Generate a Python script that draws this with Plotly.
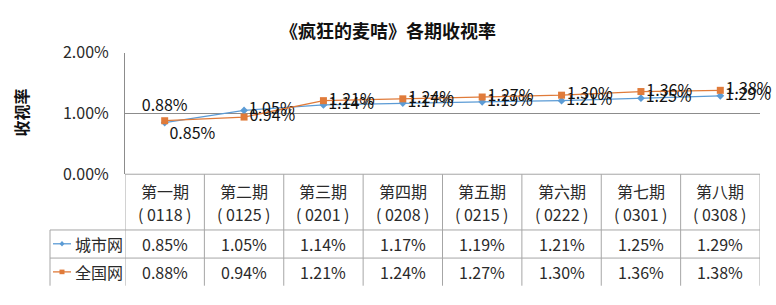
import plotly.graph_objects as go

W, H = 776, 305

categories = ["第一期", "第二期", "第三期", "第四期", "第五期", "第六期", "第七期", "第八期"]
dates = ["0118", "0125", "0201", "0208", "0215", "0222", "0301", "0308"]
city = [0.0085, 0.0105, 0.0114, 0.0117, 0.0119, 0.0121, 0.0125, 0.0129]
national = [0.0088, 0.0094, 0.0121, 0.0124, 0.0127, 0.0130, 0.0136, 0.0138]
series_names = ["城市网", "全国网"]
colors = ["#5B9BD5", "#E07B3A"]

FONT = "Noto Sans CJK SC, Microsoft YaHei, sans-serif"
NB = "\u00a0"


def px(x):
    return x / W


def py(y):
    return 1 - y / H


fig = go.Figure()
xs = list(range(len(categories)))

fig.add_trace(go.Scatter(
    x=xs, y=city, mode="lines+markers+text", name=series_names[0],
    line=dict(color=colors[0], width=1.3),
    marker=dict(symbol="diamond", size=6, color=colors[0]),
    text=[f"{v*100:.2f}%" for v in city],
    textposition=["bottom right"] + ["middle right"] * 7,
    textfont=dict(family=FONT, size=16, color="#111"),
    cliponaxis=False, showlegend=False,
))
fig.add_trace(go.Scatter(
    x=xs, y=national, mode="lines+markers+text", name=series_names[1],
    line=dict(color=colors[1], width=1.3),
    marker=dict(symbol="square", size=7, color=colors[1]),
    text=[f"{v*100:.2f}%" for v in national],
    textposition=["top center"] + ["middle right"] * 7,
    textfont=dict(family=FONT, size=16, color="#111"),
    cliponaxis=False, showlegend=False,
))

GRID = "#8C8C8C"
TBL = "#A6A6A6"
TXT = "#2a2a2a"
shapes = []
shapes.append(dict(type="line", xref="paper", yref="paper", x0=px(125), x1=px(760), y0=py(175), y1=py(175),
                   line=dict(color=TBL, width=1)))
for yy in (235.5, 266):
    shapes.append(dict(type="line", xref="paper", yref="paper", x0=px(50), x1=px(760), y0=py(yy), y1=py(yy),
                       line=dict(color=TBL, width=1)))
for i in range(len(categories) + 1):
    shapes.append(dict(type="line", xref="x", yref="paper", x0=i - 0.5, x1=i - 0.5, y0=py(175), y1=py(296),
                       line=dict(color=TBL, width=1)))
shapes.append(dict(type="line", xref="paper", yref="paper", x0=px(50), x1=px(50), y0=py(235.5), y1=py(296),
                   line=dict(color=TBL, width=1)))

annotations = []
annotations.append(dict(text="<b>《疯狂的麦咭》各期收视率</b>", xref="paper", yref="paper", x=0.5, y=py(18),
                        xanchor="center", showarrow=False, font=dict(family=FONT, size=18, color="#111"),
                        yanchor="middle"))
annotations.append(dict(text="<b>收视率</b>", xref="paper", yref="paper", x=px(21), y=py(108), textangle=-90,
                        xanchor="center", yanchor="middle",
                        showarrow=False, font=dict(family=FONT, size=16, color="#111")))
for i, (c, d) in enumerate(zip(categories, dates)):
    annotations.append(dict(text=c, xref="x", yref="paper", x=i, y=py(193), showarrow=False,
                            font=dict(family=FONT, size=16, color=TXT), yanchor="middle"))
    annotations.append(dict(text=f"({NB}{d}{NB})", xref="x", yref="paper", x=i, y=py(218), showarrow=False,
                            font=dict(family=FONT, size=16, color=TXT), yanchor="middle"))
for row_y, vals in ((250.5, city), (281, national)):
    for i, v in enumerate(vals):
        annotations.append(dict(text=f"{v*100:.2f}%", xref="x", yref="paper", x=i, y=py(row_y), showarrow=False,
                                font=dict(family=FONT, size=16, color=TXT), yanchor="middle"))
for row_y, name, col, sym in ((250.5, series_names[0], colors[0], "diamond"), (281, series_names[1], colors[1], "square")):
    shapes.append(dict(type="line", xref="paper", yref="paper", x0=px(53), x1=px(71), y0=py(row_y), y1=py(row_y),
                       line=dict(color=col, width=1.3)))
    if sym == "square":
        shapes.append(dict(type="rect", xref="paper", yref="paper", x0=px(59.5), x1=px(64.5),
                           y0=py(row_y + 2.5), y1=py(row_y - 2.5), fillcolor=col, line=dict(width=0)))
    else:
        cx, cy = 62, row_y
        path = f"M {px(cx)} {py(cy-3)} L {px(cx+2.5)} {py(cy)} L {px(cx)} {py(cy+3)} L {px(cx-2.5)} {py(cy)} Z"
        shapes.append(dict(type="path", xref="paper", yref="paper", path=path, fillcolor=col, line=dict(width=0)))
    annotations.append(dict(text=name, xref="paper", yref="paper", x=px(73), y=py(row_y), xanchor="left",
                            yanchor="middle", showarrow=False, font=dict(family=FONT, size=16, color=TXT)))

fig.update_layout(
    width=W, height=H, margin=dict(l=0, r=0, t=0, b=0),
    paper_bgcolor="white", plot_bgcolor="white",
    font=dict(family=FONT),
    xaxis=dict(domain=[px(125), px(760)], range=[-0.5, len(categories) - 0.5], showticklabels=False,
               showgrid=False, zeroline=False, showline=False, fixedrange=True),
    yaxis=dict(domain=[py(175), py(43)], range=[0, 0.02], dtick=0.01, tickformat=".2%",
               showgrid=True, gridcolor=GRID, gridwidth=1, zeroline=False,
               showline=True, linecolor=GRID, linewidth=1,
               ticks="outside", ticklen=12, tickcolor="rgba(0,0,0,0)",
               tickfont=dict(family=FONT, size=16, color=TXT)),
    shapes=shapes, annotations=annotations,
)

fig.write_html("out.html")
